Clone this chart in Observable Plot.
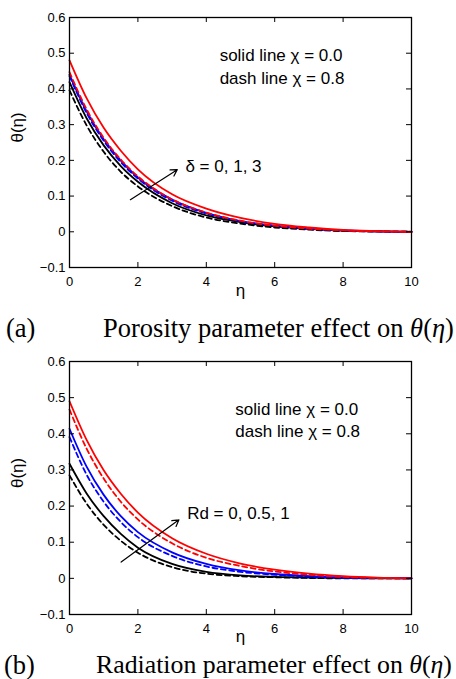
<!DOCTYPE html>
<html><head><meta charset="utf-8">
<script src="https://cdn.jsdelivr.net/npm/d3@7"></script>
<script src="https://cdn.jsdelivr.net/npm/@observablehq/plot@0.6"></script>
<style>
html,body{margin:0;padding:0;background:#fff;}
#wrap{position:relative;width:456px;height:679px;overflow:hidden;background:#fff;}
.panel{position:absolute;left:0;}
.cap{position:absolute;font-family:"Liberation Serif","Times New Roman",serif;font-size:26.5px;line-height:26px;white-space:nowrap;color:#000;}
.capb{font-size:25.8px;}
</style></head><body>
<div id="wrap">
  <div id="pa" class="panel" style="top:0px"></div>
  <div class="cap" style="top:315px;left:6px">(a)</div>
  <div class="cap" style="top:315px;left:103px">Porosity parameter effect on <i>θ</i>(<i>η</i>)</div>
  <div id="pb" class="panel" style="top:345px"></div>
  <div class="cap" style="top:652px;left:4px">(b)</div>
  <div class="cap capb" style="top:652px;left:96px">Radiation parameter effect on <i>θ</i>(<i>η</i>)</div>
</div>
<script>
// ---- data ----
const eta = [0, 0.5, 1, 1.5, 2, 3, 4, 5, 6, 7, 8, 9, 10];
const xTicks = [0, 2, 4, 6, 8, 10];
const yTicks = [-0.1, 0, 0.1, 0.2, 0.3, 0.4, 0.5, 0.6];

// panel (a): porosity parameter delta = 0, 1, 3
const aBlackSolid = [0.419, 0.318, 0.242, 0.184, 0.140, 0.080, 0.046, 0.027, 0.015, 0.008, 0.003, 0.001, 0];
const aBlackDash  = [0.396, 0.298, 0.224, 0.168, 0.127, 0.072, 0.040, 0.023, 0.012, 0.006, 0.002, 0.001, 0];
const aBlueSolid  = [0.440, 0.337, 0.259, 0.199, 0.152, 0.090, 0.053, 0.030, 0.017, 0.009, 0.004, 0.001, 0];
const aBlueDash   = [0.436, 0.333, 0.255, 0.195, 0.149, 0.087, 0.051, 0.029, 0.016, 0.008, 0.003, 0.001, 0];
const aRedSolid   = [0.480, 0.374, 0.291, 0.227, 0.175, 0.105, 0.065, 0.039, 0.022, 0.012, 0.005, 0.002, 0];
const aRedDash    = [0.447, 0.343, 0.263, 0.202, 0.155, 0.091, 0.054, 0.031, 0.017, 0.009, 0.004, 0.001, 0];

// panel (b): radiation parameter Rd = 0, 0.5, 1
const bBlackSolid = [0.317, 0.235, 0.172, 0.123, 0.085, 0.040, 0.018, 0.008, 0.004, 0.002, 0.001, 0, 0];
const bBlackDash  = [0.285, 0.207, 0.148, 0.104, 0.071, 0.031, 0.013, 0.006, 0.003, 0.001, 0, 0, 0];
const bBlueSolid  = [0.414, 0.309, 0.231, 0.172, 0.128, 0.072, 0.040, 0.022, 0.012, 0.006, 0.002, 0.001, 0];
const bBlueDash   = [0.391, 0.287, 0.212, 0.156, 0.114, 0.062, 0.033, 0.018, 0.010, 0.005, 0.002, 0.001, 0];
const bRedSolid   = [0.490, 0.383, 0.299, 0.234, 0.182, 0.111, 0.068, 0.041, 0.024, 0.013, 0.006, 0.002, 0];
const bRedDash    = [0.467, 0.359, 0.276, 0.212, 0.163, 0.097, 0.057, 0.034, 0.019, 0.010, 0.004, 0.001, 0];

// annotations (data coordinates)
const arrowA = [{x1: 1.78, y1: 0.090, x2: 3.15, y2: 0.174}];
const arrowB = [{x1: 1.51, y1: 0.045, x2: 3.20, y2: 0.162}];
const labelA = [{x: 3.39, y: 0.183, text: "δ = 0, 1, 3"}];
const labelB = [{x: 3.44, y: 0.179, text: "Rd = 0, 0.5, 1"}];
const notesA = [{x: 4.39, y: 0.494, text: "solid line χ = 0.0"}, {x: 4.39, y: 0.429, text: "dash line χ = 0.8"}];
const notesB = [{x: 4.85, y: 0.467, text: "solid line χ = 0.0"}, {x: 4.85, y: 0.405, text: "dash line χ = 0.8"}];

const seriesA = [
  {v: aBlueDash, color: "#0000ff", dash: true},
  {v: aBlackDash, color: "#000000", dash: true},
  {v: aBlackSolid, color: "#000000", dash: false},
  {v: aBlueSolid, color: "#0000ff", dash: false},
  {v: aRedSolid, color: "#ff0000", dash: false},
  {v: aRedDash, color: "#ff0000", dash: true}
];
const seriesB = [
  {v: bBlackSolid, color: "#000000", dash: false},
  {v: bBlackDash, color: "#000000", dash: true},
  {v: bBlueSolid, color: "#0000ff", dash: false},
  {v: bBlueDash, color: "#0000ff", dash: true},
  {v: bRedSolid, color: "#ff0000", dash: false},
  {v: bRedDash, color: "#ff0000", dash: true}
];

const fmtY = d => d === 0 ? "0" : (d < 0 ? "\u2212" + Math.abs(d).toFixed(1) : d.toFixed(1));

function panel({series, arrow, label, notes, height, marginTop, marginBottom, xLabelDy}) {
  const fw = 456 - 69 - 45;
  const fh = height - marginTop - marginBottom;
  const lines = series.map(s => Plot.line(eta.map((e, i) => ({eta: e, theta: s.v[i]})), {
    x: "eta", y: "theta", stroke: s.color, strokeWidth: 1.8,
    strokeDasharray: s.dash ? "5,3.5" : null, curve: "monotone-x"
  }));
  return Plot.plot({
    width: 456, height, marginLeft: 69, marginRight: 45, marginTop, marginBottom,
    style: {fontFamily: "'Liberation Sans', Arial, sans-serif", fontSize: "13px", background: "white", color: "black"},
    x: {domain: [0, 10], label: null},
    y: {domain: [-0.1, 0.6], label: null},
    marks: [
      ...lines,
      Plot.arrow(arrow, {x1: "x1", y1: "y1", x2: "x2", y2: "y2", stroke: "black", strokeWidth: 1.2, headLength: 9}),
      Plot.text(label, {x: "x", y: "y", text: "text", textAnchor: "start", lineAnchor: "middle", fontSize: 17}),
      Plot.text(notes, {x: "x", y: "y", text: "text", textAnchor: "start", lineAnchor: "middle", fontSize: 17}),
      Plot.tickX(xTicks, {x: d => d, insetTop: fh - 5, stroke: "black"}),
      Plot.tickX(xTicks, {x: d => d, insetBottom: fh - 5, stroke: "black"}),
      Plot.tickY(yTicks, {y: d => d, insetRight: fw - 5, stroke: "black"}),
      Plot.tickY(yTicks, {y: d => d, insetLeft: fw - 5, stroke: "black"}),
      Plot.frame({stroke: "black", strokeWidth: 1.3}),
      Plot.axisX({ticks: xTicks, tickSize: 0, tickPadding: 9, tickFormat: d => String(d), label: null, fontSize: 13}),
      Plot.axisY({ticks: yTicks, tickSize: 0, tickPadding: 4, tickFormat: fmtY, label: null, fontSize: 13}),
      Plot.text(["η"], {text: d => d, frameAnchor: "bottom", dy: xLabelDy, lineAnchor: "middle", fontSize: 17}),
      Plot.text(["θ(η)"], {text: d => d, frameAnchor: "left", dx: -52, rotate: -90, lineAnchor: "middle", fontSize: 17})
    ]
  });
}

document.getElementById("pa").append(panel({
  series: seriesA, arrow: arrowA, label: labelA, notes: notesA,
  height: 305, marginTop: 17, marginBottom: 38, xLabelDy: 23
}));
document.getElementById("pb").append(panel({
  series: seriesB, arrow: arrowB, label: labelB, notes: notesB,
  height: 300, marginTop: 16, marginBottom: 31, xLabelDy: 22
}));
</script>
</body></html>
